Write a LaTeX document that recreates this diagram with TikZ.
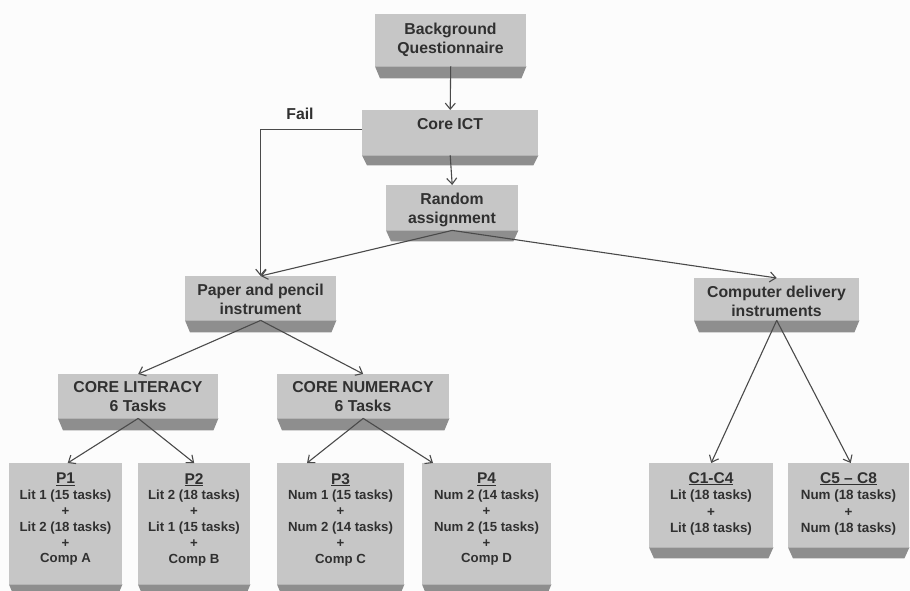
\documentclass[tikz,border=0pt]{standalone}
\usepackage{fontspec}
\setmainfont{Liberation Sans}
\usetikzlibrary{arrows.meta}

\definecolor{facegray}{HTML}{C6C6C6}
\definecolor{bevelgray}{HTML}{8E8E8E}
\definecolor{inkgray}{HTML}{303030}
\definecolor{linegray}{HTML}{4A4A4A}
\definecolor{sheet}{HTML}{FCFCFC}

% darker slanted strip under a box face
\newcommand\drawbevel[2][12]{%
  \fill[bevelgray] (#2.south west) -- (#2.south east)
    -- ([xshift=-5pt,yshift=-#1pt]#2.south east)
    -- ([xshift=5pt,yshift=-#1pt]#2.south west) -- cycle;}

\tikzset{
  face/.style={fill=facegray, draw=none, inner sep=0pt, anchor=north west},
  bigtext/.style={align=center, inner sep=0pt, text=inkgray,
    font=\bfseries\fontsize{15.8}{19}\selectfont},
  smalltext/.style={align=center, inner sep=0pt, text=inkgray, anchor=north,
    font=\bfseries\fontsize{13.2}{15.8}\selectfont},
  conn/.style={draw=linegray, line width=1.1pt,
    -{Straight Barb[length=6pt,width=10pt,line width=1.1pt]}},
  failline/.style={draw=linegray, line width=1.1pt,
    -{Straight Barb[length=6pt,width=10pt,line width=1.1pt]}},
}
\newcommand\boxtitle[1]{{\fontsize{15.5}{15.8}\selectfont\underline{#1}}}

\begin{document}
\begin{tikzpicture}[x=1pt,y=-1pt]
  \useasboundingbox (0,0) rectangle (910,591);
  \clip (0,0) rectangle (910,591);
  \fill[sheet] (0,0) rectangle (910,591);

  % box faces
  \node[face, minimum width=151pt, minimum height=52pt] (bq)  at (375,14)  {};
  \node[face, minimum width=176pt, minimum height=45pt] (ict) at (362,110) {};
  \node[face, minimum width=132pt, minimum height=45pt] (ra)  at (386,185) {};
  \node[face, minimum width=151pt, minimum height=44pt] (pp)  at (185,276) {};
  \node[face, minimum width=165pt, minimum height=42pt] (cd)  at (694,278) {};
  \node[face, minimum width=160pt, minimum height=44pt] (cl)  at (58,374)  {};
  \node[face, minimum width=172pt, minimum height=44pt] (cn)  at (277,374) {};
  \node[face, minimum width=113pt, minimum height=121pt] (p1) at (9,463)   {};
  \node[face, minimum width=112pt, minimum height=121pt] (p2) at (138,463) {};
  \node[face, minimum width=127pt, minimum height=121pt] (p3) at (277,463) {};
  \node[face, minimum width=129pt, minimum height=121pt] (p4) at (422,463) {};
  \node[face, minimum width=124pt, minimum height=84pt]  (c14) at (649,463) {};
  \node[face, minimum width=121pt, minimum height=84pt]  (c58) at (788,463) {};

  % bevels
  \drawbevel{bq}
  \drawbevel[10]{ict}
  \drawbevel[11]{ra}
  \drawbevel{pp}
  \drawbevel{cd}
  \drawbevel{cl}
  \drawbevel{cn}
  \drawbevel{p1}
  \drawbevel{p2}
  \drawbevel{p3}
  \drawbevel{p4}
  \drawbevel[11]{c14}
  \drawbevel[11]{c58}

  % labels
  \node[bigtext] (bqt)  at (450.5,40) {Background\\Questionnaire};
  \node[bigtext] (ictt) at (450,124)  {Core ICT};
  \node[bigtext] (rat)  at (452,210)  {Random\\assignment};
  \node[bigtext] (ppt)  at (260.5,299) {Paper and pencil\\instrument};
  \node[bigtext] (cdt)  at (776.5,301) {Computer delivery\\instruments};
  \node[bigtext] (clt)  at (138,397)  {CORE LITERACY\\6 Tasks};
  \node[bigtext] (cnt)  at (363,397)  {CORE NUMERACY\\6 Tasks};
  \node[bigtext] (fail) at (300,114)  {Fail};

  \node[smalltext] (p1t) at (65.5,473) {\boxtitle{P1}\\Lit 1 (15 tasks)\\+\\Lit 2 (18 tasks)\\+\\Comp A};
  \node[smalltext] (p2t) at (194,473)  {\boxtitle{P2}\\Lit 2 (18 tasks)\\+\\Lit 1 (15 tasks)\\+\\Comp B};
  \node[smalltext] (p3t) at (340.5,473) {\boxtitle{P3}\\Num 1 (15 tasks)\\+\\Num 2 (14 tasks)\\+\\Comp C};
  \node[smalltext] (p4t) at (486.5,473) {\boxtitle{P4}\\Num 2 (14 tasks)\\+\\Num 2 (15 tasks)\\+\\Comp D};
  \node[smalltext, font=\bfseries\fontsize{13.4}{16.5}\selectfont] (c14t) at (711,472)
    {{\fontsize{15.5}{16.5}\selectfont\underline{C1-C4}}\\Lit (18 tasks)\\+\\Lit (18 tasks)};
  \node[smalltext, font=\bfseries\fontsize{13.4}{16.5}\selectfont] (c58t) at (848.5,472)
    {{\fontsize{15.5}{16.5}\selectfont\underline{C5 – C8}}\\Num (18 tasks)\\+\\Num (18 tasks)};

  % connectors
  \draw[conn] (bq.south) -- (ict.north);
  \draw[conn] (ict.south) -- (ra.north);
  \draw[failline] ([yshift=3.5pt]ict.west) -| (pp.north);
  \draw[conn] (ra.south) -- (pp.north);
  \draw[conn] (ra.south) -- (cd.north);
  \draw[conn] (pp.south) -- (cl.north);
  \draw[conn] (pp.south) -- (cn.north);
  \draw[conn] (cl.south) -- ([xshift=2pt]p1.north);
  \draw[conn] (cl.south) -- (p2.north);
  \draw[conn] (cn.south) -- ([xshift=30pt]p3.north west);
  \draw[conn] (cn.south) -- ([xshift=11pt]p4.north west);
  \draw[conn] (cd.south) -- (c14.north);
  \draw[conn] (cd.south) -- ([xshift=2pt]c58.north);
\end{tikzpicture}
\end{document}
